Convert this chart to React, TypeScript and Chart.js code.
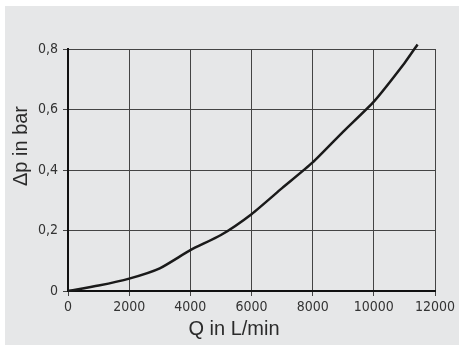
import React, { useEffect, useRef } from "react";
import { Chart, registerables } from "chart.js";

Chart.register(...registerables);

const flowValues = [0, 1000, 2000, 3000, 4000, 5000, 6000, 7000, 8000, 9000, 10000, 11000, 11430];
const pressureValues = [0, 0.018, 0.041, 0.075, 0.135, 0.185, 0.254, 0.34, 0.425, 0.527, 0.626, 0.753, 0.815];
const yTickLabels = ["0", "0,2", "0,4", "0,6", "0,8"];
const xTitle = "Q in L/min";
const yTitle = "\u0394p in bar";

const BG = "#e6e7e8";
const TICK_FONT = '"Liberation Sans Narrow", "DejaVu Sans Condensed", "Liberation Sans", sans-serif';
const TITLE_FONT = '"Liberation Sans", Arial, sans-serif';

const backgroundPlugin = {
  id: "bgPlugin",
  beforeDraw(chart: any) {
    const { ctx, width, height } = chart;
    ctx.save();
    ctx.fillStyle = "#ffffff";
    ctx.fillRect(0, 0, width, height);
    ctx.fillStyle = BG;
    ctx.fillRect(5, 6, width - 5, height - 6);
    ctx.restore();
  },
  afterDraw(chart: any) {
    const { ctx } = chart;
    ctx.save();
    ctx.fillStyle = "#2b2b2b";
    ctx.font = `20px ${TITLE_FONT}`;
    ctx.textAlign = "center";
    ctx.textBaseline = "alphabetic";
    ctx.fillText(xTitle, 234, 335);
    ctx.translate(27, 146);
    ctx.rotate(-Math.PI / 2);
    ctx.fillText(yTitle, 0, 0);
    ctx.restore();
  },
};

export default function App() {
  const ref = useRef<HTMLCanvasElement | null>(null);
  useEffect(() => {
    if (!ref.current) return;
    const chart = new Chart(ref.current, {
      type: "line",
      data: {
        datasets: [
          {
            data: flowValues.map((x, i) => ({ x, y: pressureValues[i] })),
            borderColor: "#1a1a1a",
            borderWidth: 2.5,
            pointRadius: 0,
            tension: 0.2,
            fill: false,
            clip: false as any,
          },
        ],
      },
      options: {
        responsive: false,
        animation: false,
        devicePixelRatio: 1,
        layout: { padding: { top: 49, right: 24, left: 0, bottom: 0 } },
        plugins: { legend: { display: false }, tooltip: { enabled: false } },
        scales: {
          x: {
            type: "linear",
            min: 0,
            max: 12000,
            ticks: {
              stepSize: 2000,
              color: "#333",
              font: { family: TICK_FONT, size: 14 },
              padding: 3,
              maxRotation: 0,
              callback: (v: any) => String(v),
            },
            grid: { color: "#444", lineWidth: 1, tickLength: 5, drawTicks: true },
            border: { color: "#111", width: 2 },
            afterFit: (s: any) => {
              s.height = 54;
            },
          },
          y: {
            type: "linear",
            min: 0,
            max: 0.8,
            ticks: {
              stepSize: 0.2,
              color: "#333",
              font: { family: TICK_FONT, size: 14 },
              padding: 5,
              callback: (v: any) => yTickLabels[Math.round(Number(v) / 0.2)] ?? "",
            },
            grid: { color: "#444", lineWidth: 1, tickLength: 5, drawTicks: true },
            border: { color: "#111", width: 2 },
            afterFit: (s: any) => {
              s.width = 68;
            },
          },
        },
      },
      plugins: [backgroundPlugin],
    });
    return () => chart.destroy();
  }, []);
  return (
    <div style={{ position: "fixed", left: 0, top: 0, width: 459, height: 345, background: "#fff" }}>
      <canvas ref={ref} width={459} height={345} style={{ display: "block", width: 459, height: 345 }} />
    </div>
  );
}
